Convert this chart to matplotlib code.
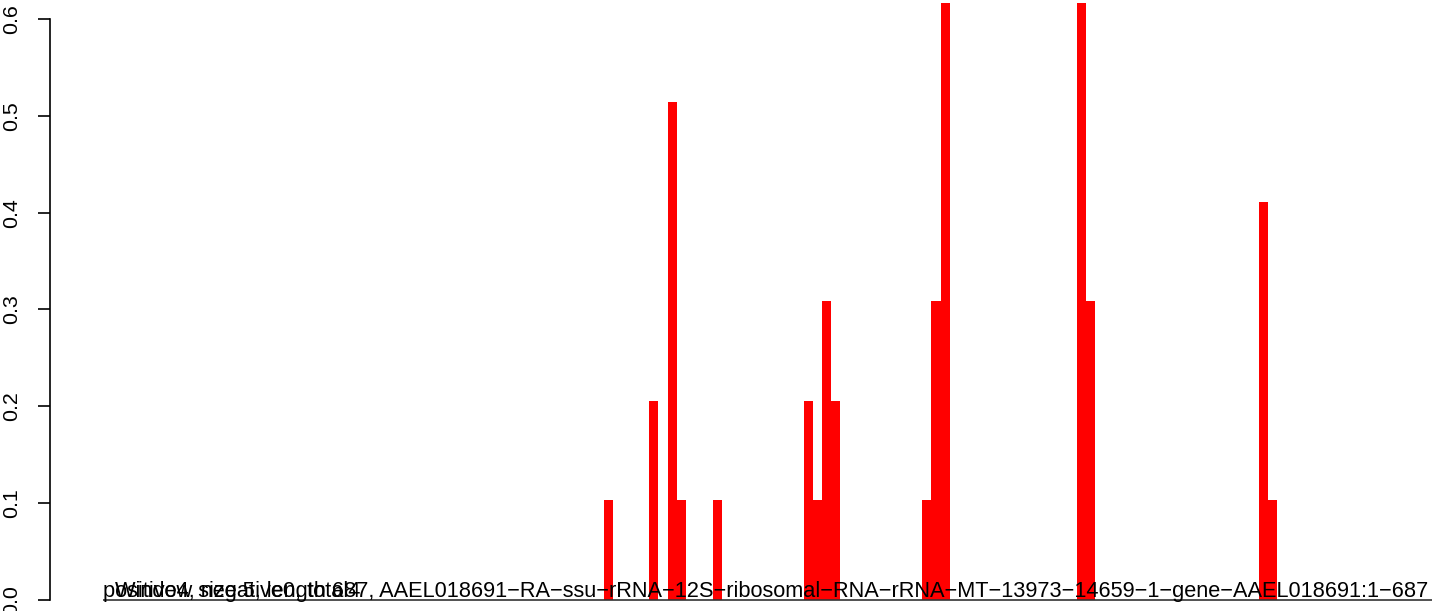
import matplotlib
matplotlib.use("Agg")
import matplotlib.pyplot as plt
import numpy as np

# sliding-window scores, only the non-zero windows are listed
n_windows = 146
hit_windows = [55, 60, 62, 63, 67, 77, 78, 79, 80, 90, 91, 92, 107, 108, 127, 128]
hit_scores = [0.103, 0.206, 0.514, 0.103, 0.103, 0.206, 0.103, 0.309, 0.206,
              0.103, 0.309, 0.617, 0.617, 0.309, 0.411, 0.103]

yticks = [0.0, 0.1, 0.2, 0.3, 0.4, 0.5, 0.6]
count_label = "positive4, negative0, total4"
title_label = ("Window size 5, length 687, AAEL018691\u2212RA\u2212ssu\u2212rRNA\u221212S\u2212ribosomal"
               "\u2212RNA\u2212rRNA\u2212MT\u221213973\u221214659\u22121\u2212gene\u2212AAEL018691:1\u2212687")

scores = np.zeros(n_windows)
scores[hit_windows] = hit_scores

plt.rcParams['font.family'] = ['Liberation Sans', 'DejaVu Sans']

W, H = 1444, 611
fig = plt.figure(figsize=(W / 100, H / 100), dpi=100)
ax = fig.add_axes([50 / W, 11 / H, 1435.3 / W, 600 / H])

ax.bar(np.arange(n_windows), scores, width=1.0, align='edge', color='#FF0000', linewidth=0)
ax.hlines(0, 0, n_windows, color='#333333', linewidth=1.2, clip_on=False, zorder=3)

ax.set_xlim(-0.04 * n_windows, 1.04 * n_windows)
ax.set_ylim(0, 0.6196)

for s in ['top', 'right', 'bottom']:
    ax.spines[s].set_visible(False)
ax.spines['left'].set_bounds(0, 0.6)
ax.spines['left'].set_linewidth(1.2)
ax.set_xticks([])
ax.set_yticks(yticks)
ax.set_yticklabels(["%.1f" % v for v in yticks], rotation=90, va='center', fontsize=15.4)
ax.tick_params(axis='y', length=8.6, width=1.2, pad=12)

# both labels sit on the baseline and overlap, as in the original
ax.text(0, 0.003, count_label, ha='left', va='baseline', fontsize=15.7, color='black', zorder=4, clip_on=False)
ax.text(1.32, 0.003, title_label, ha='left', va='baseline', fontsize=15.7, color='black', zorder=4, clip_on=False)

fig.savefig("out.png", dpi=100)
